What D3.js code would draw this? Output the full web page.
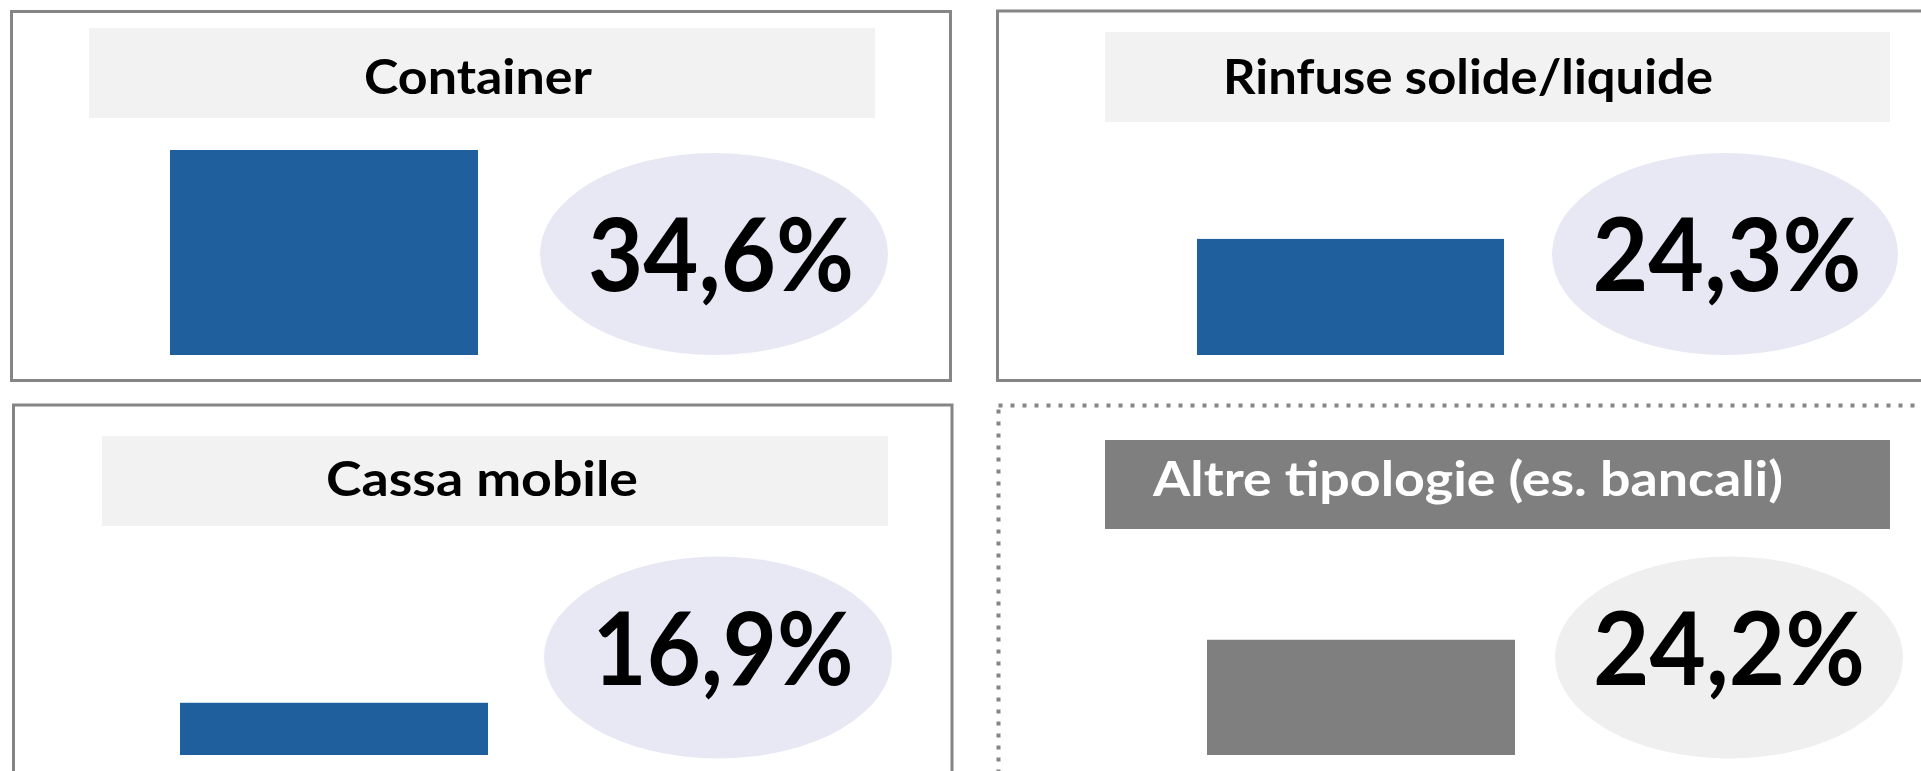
<!DOCTYPE html>
<html lang="it">
<head>
<meta charset="utf-8">
<title>Tipologie di carico</title>
<script src="https://cdn.jsdelivr.net/npm/d3@7"></script>
<style>
  html, body { margin: 0; padding: 0; background: #fff; overflow: hidden; }
  svg { display: block; }
  text { font-family: "Century Gothic", "URW Gothic", Lato, "DejaVu Sans", sans-serif; font-weight: 700; }
</style>
</head>
<body>
<svg id="chart" width="1921" height="771"></svg>
<script>
(function () {
  'use strict';

  // data
  const categories = ['Container', 'Rinfuse solide/liquide', 'Cassa mobile', 'Altre tipologie (es. bancali)'];
  const shares = [34.6, 24.3, 16.9, 24.2];
  const highlight = [false, false, false, true];

  // panel layout (pixels), one entry per category
  const panels = [
    { box: [11.5, 11.5, 939, 369], dotted: false, title: [89, 28, 786, 90], titleX: 478, titleY: 94, titleW: 228,
      barX: 170, barW: 308, base: 355, ell: [714, 254, 174, 101], valX: 721, valY: 291, valW: 266 },
    { box: [997.5, 11, 960, 369.5], dotted: false, title: [1105, 32, 785, 90], titleX: 1468, titleY: 94, titleW: 490,
      barX: 1197, barW: 307, base: 355, ell: [1725, 254, 173, 101], valX: 1727, valY: 291, valW: 269 },
    { box: [13.5, 405, 938.5, 400], dotted: false, title: [102, 436, 786, 90], titleX: 482, titleY: 496, titleW: 312,
      barX: 180, barW: 308, base: 755, ell: [718, 657.5, 174, 101], valX: 723, valY: 685, valW: 261 },
    { box: [998.5, 405.5, 960, 400], dotted: true, title: [1105, 440, 785, 89], titleX: 1468, titleY: 496, titleW: 630,
      barX: 1207, barW: 308, base: 755, ell: [1729, 657.5, 174, 101], valX: 1729, valY: 685, valW: 272 }
  ];

  const colors = {
    bar: '#1f5f9e', barAlt: '#7f7f7f',
    ell: '#e8e8f4', ellAlt: '#efefef',
    title: '#f2f2f2', titleAlt: '#7f7f7f',
    border: '#858585'
  };

  const it = d3.formatLocale({ decimal: ',', thousands: '.', grouping: [3], currency: ['', ' €'] });
  const fmt = v => it.format('.1f')(v) + '%';

  // same height scale for all four bars
  const y = d3.scaleLinear().domain([10.85, 34.6]).range([0, 205]);

  const svg = d3.select('#chart');

  const g = svg.selectAll('g.panel')
    .data(categories.map((c, i) => ({ name: c, value: shares[i], alt: highlight[i], p: panels[i] })))
    .join('g').attr('class', 'panel');

  g.append('rect')
    .attr('x', d => d.p.box[0]).attr('y', d => d.p.box[1])
    .attr('width', d => d.p.box[2]).attr('height', d => d.p.box[3])
    .attr('fill', 'none')
    .attr('stroke', colors.border)
    .attr('stroke-width', d => d.p.dotted ? 4 : 3)
    .attr('stroke-dasharray', d => d.p.dotted ? '4 8' : null);

  g.append('rect')
    .attr('x', d => d.p.title[0]).attr('y', d => d.p.title[1])
    .attr('width', d => d.p.title[2]).attr('height', d => d.p.title[3])
    .attr('fill', d => d.alt ? colors.titleAlt : colors.title);

  g.append('text')
    .attr('x', d => d.p.titleX)
    .attr('y', d => d.p.titleY)
    .attr('text-anchor', 'middle')
    .attr('font-size', 48)
    .attr('textLength', d => d.p.titleW)
    .attr('lengthAdjust', 'spacingAndGlyphs')
    .attr('fill', d => d.alt ? '#fff' : '#000')
    .text(d => d.name);

  g.append('rect')
    .attr('class', 'bar')
    .attr('x', d => d.p.barX)
    .attr('width', d => d.p.barW)
    .attr('y', d => d.p.base - y(d.value))
    .attr('height', d => y(d.value))
    .attr('fill', d => d.alt ? colors.barAlt : colors.bar);

  g.append('ellipse')
    .attr('cx', d => d.p.ell[0]).attr('cy', d => d.p.ell[1])
    .attr('rx', d => d.p.ell[2]).attr('ry', d => d.p.ell[3])
    .attr('fill', d => d.alt ? colors.ellAlt : colors.ell);

  g.append('text')
    .attr('x', d => d.p.valX)
    .attr('y', d => d.p.valY)
    .attr('text-anchor', 'middle')
    .attr('font-size', 101)
    .attr('textLength', d => d.p.valW)
    .attr('lengthAdjust', 'spacingAndGlyphs')
    .attr('fill', '#000')
    .text(d => fmt(d.value));
})();
</script>
</body>
</html>
